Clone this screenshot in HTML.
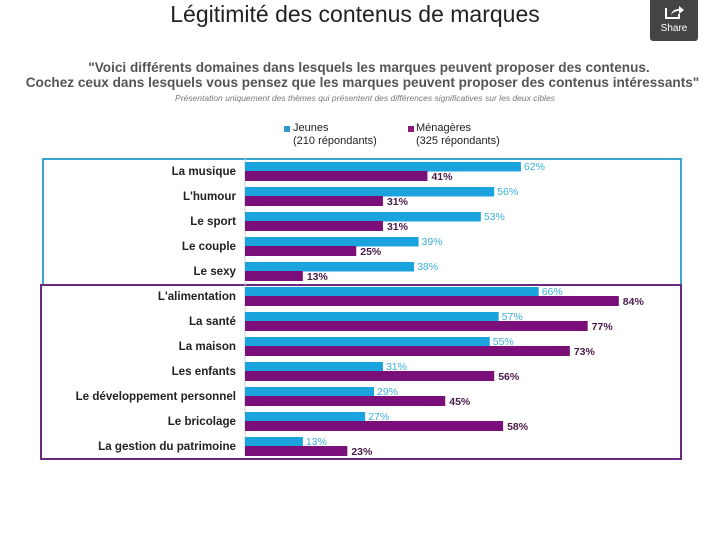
<!DOCTYPE html>
<html><head><meta charset="utf-8"><style>
body{margin:0;width:720px;height:540px;background:#fff;overflow:hidden;font-family:"Liberation Sans",sans-serif;position:relative}
.t{position:absolute;white-space:nowrap}
</style></head><body>
<div class="t" style="left:0;width:710px;text-align:center;top:1px;font-size:23px;color:#222;">Légitimité des contenus de marques</div>
<div style="position:absolute;left:650px;top:0;width:48px;height:41px;background:#444;border-radius:0 0 3px 3px;color:#fff;font-size:10px;text-align:center;">
<svg width="20" height="16" viewBox="0 0 20 16" style="margin-top:4px"><path d="M2 4v10h13v-4" stroke="#fff" stroke-width="2" fill="none"/><path d="M7 11c1-5 5-6 8-6V2l5 4-5 4V7c-3 0-6 1-8 4z" fill="#fff"/></svg><div style="margin-top:0">Share</div></div>
<div class="t" style="left:0;width:738px;text-align:center;top:60px;font-size:13.6px;color:#555;font-weight:bold">"Voici différents domaines dans lesquels les marques peuvent proposer des contenus.</div>
<div class="t" style="left:0;width:725px;text-align:center;top:75px;font-size:13.6px;color:#555;font-weight:bold">Cochez ceux dans lesquels vous pensez que les marques peuvent proposer des contenus intéressants"</div>
<div class="t" style="left:0;width:730px;text-align:center;top:93px;font-size:8.5px;color:#777;font-style:italic">Présentation uniquement des thèmes qui présentent des différences significatives sur les deux cibles</div>
<div><div style="position:absolute;left:284px;top:126px;width:6px;height:6px;background:#3399cc"></div><div class="t" style="left:293px;top:122px;font-size:11px;line-height:13px;color:#222">Jeunes<br>(210 répondants)</div></div>
<div><div style="position:absolute;left:408px;top:126px;width:6px;height:6px;background:#8b1a7a"></div><div class="t" style="left:416px;top:122px;font-size:11px;line-height:13px;color:#222">Ménagères<br>(325 répondants)</div></div>
<div style="position:absolute;left:42px;top:158px;width:636px;height:124px;border:2px solid #3aa6d0;box-sizing:content-box"></div>
<div style="position:absolute;left:40px;top:284px;width:638px;height:172px;border:2px solid #6a2a80;box-sizing:content-box"></div>
<svg id="c" width="720" height="540" style="position:absolute;left:0;top:0"></svg>
<script>
const categories=["La musique","L'humour","Le sport","Le couple","Le sexy","L'alimentation","La santé","La maison","Les enfants","Le développement personnel","Le bricolage","La gestion du patrimoine"];
const jeunes=[62,56,53,39,38,66,57,55,31,29,27,13];
const menageres=[41,31,31,25,13,84,77,73,56,45,58,23];
const svg=document.getElementById('c');const NS='http://www.w3.org/2000/svg';
const x0=245,pxPer=4.45,y0=171,step=25;
const xs=v=>x0+v*pxPer, yc=i=>y0+i*step;
function mk(t,a){const e=document.createElementNS(NS,t);for(const k in a)e.setAttribute(k,a[k]);svg.appendChild(e);return e;}
const ax=mk('line',{x1:x0,x2:x0,y1:158,y2:456,stroke:'#ccc','stroke-width':1});


categories.forEach((c,i)=>{
 const y=yc(i);
 const l=mk('text',{x:236,y:y+4,'text-anchor':'end','font-size':'11.6','font-weight':'bold',fill:'#222','font-family':'Liberation Sans'});l.textContent=c;
 
 
 const b1=mk('rect',{x:x0,y:y-9,width:xs(jeunes[i])-x0,height:9.5,fill:'#1aa3dd'});
 
 
 const b2=mk('rect',{x:x0,y:y,width:xs(menageres[i])-x0,height:10,fill:'#7a0f7a'});
 
 
 const t1=mk('text',{x:xs(jeunes[i])+3,y:y-1,'font-size':'10.5',fill:'#3ab0d8','font-family':'Liberation Sans'});t1.textContent=jeunes[i]+'%';
 
 
 const t2=mk('text',{x:xs(menageres[i])+4,y:y+9,'font-size':'10.5','font-weight':'bold',fill:'#4a1a4a','font-family':'Liberation Sans'});t2.textContent=menageres[i]+'%';
 
 
});
</script>
</body></html>
